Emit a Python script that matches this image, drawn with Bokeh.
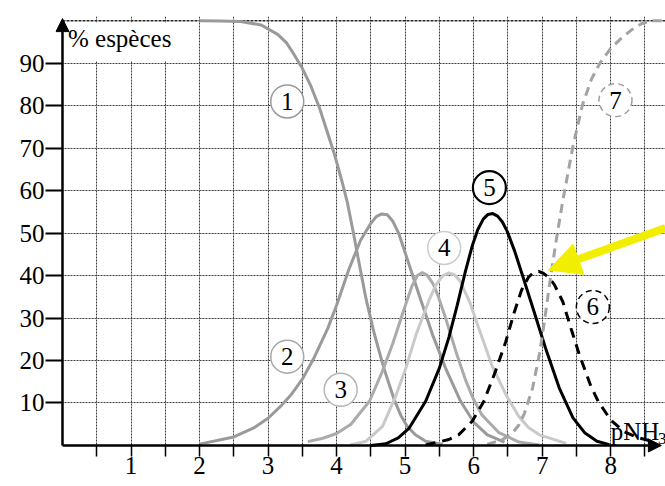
from bokeh.plotting import figure
from bokeh.models import Range1d, FixedTicker, Label, Arrow, NormalHead
from bokeh.core.properties import value
from bokeh.embed import file_html
from bokeh.resources import INLINE

FONT = "'Liberation Serif'"

# ---- axes / ticks ----
x_ticks = [1, 2, 3, 4, 5, 6, 7, 8]
x_minor = [0.5, 1.5, 2.5, 3.5, 4.5, 5.5, 6.5, 7.5, 8.5]
y_ticks = [10, 20, 30, 40, 50, 60, 70, 80, 90]
grid_x = [0.5, 1, 1.5, 2, 2.5, 3, 3.5, 4, 4.5, 5, 5.5, 6, 6.5, 7, 7.5, 8, 8.5]
grid_y = [10, 20, 30, 40, 50, 60, 70, 80, 90]
X_MIN, X_MAX = -0.102, 8.80
Y_MIN, Y_MAX = -1.9, 101

# ---- species curves (% vs pNH3) ----
c1_x = [2.0, 2.3, 2.6, 2.9, 3.14, 3.27, 3.37, 3.5, 3.62, 3.75, 3.87, 3.97, 4.09, 4.16, 4.24, 4.31, 4.43, 4.55, 4.69, 4.84, 4.94, 5.03, 5.15, 5.3, 5.55]
c1_y = [100, 99.95, 99.8, 99, 96.8, 94.8, 92.3, 88.8, 84.8, 79.5, 73.5, 68.5, 61.5, 57, 50.5, 44.5, 34.5, 26.3, 18.2, 10.8, 7.0, 4.5, 2.5, 1.0, 0.2]

c2_x = [2.0, 2.5, 2.8, 3.0, 3.2, 3.33, 3.5, 3.67, 3.87, 4.0, 4.18, 4.35, 4.5, 4.58, 4.66, 4.74, 4.82, 4.91, 5.06, 5.23, 5.4, 5.59, 5.81, 6.0, 6.2, 6.45]
c2_y = [0.3, 2.0, 4.2, 6.4, 9.5, 11.8, 15.6, 20.6, 27.5, 33, 41.5, 48.3, 52.3, 53.9, 54.5, 54.3, 52.8, 49.8, 42.5, 34.2, 26.1, 18.2, 10.4, 5.5, 2.5, 0.8]

c3_x = [3.58, 3.8, 4.0, 4.21, 4.35, 4.48, 4.67, 4.82, 5.01, 5.1, 5.18, 5.25, 5.32, 5.4, 5.47, 5.59, 5.74, 5.88, 6.0, 6.12, 6.37, 6.66, 6.96]
c3_y = [0.9, 1.7, 2.8, 5.0, 7.8, 10.4, 17.5, 24.0, 33.3, 37.5, 40.0, 40.7, 40.1, 38.3, 35.7, 30, 22.2, 15.5, 10.8, 7.2, 3.0, 0.8, 0.1]

c4_x = [4.2, 4.43, 4.67, 4.86, 5.01, 5.16, 5.35, 5.45, 5.55, 5.64, 5.72, 5.8, 5.95, 6.07, 6.27, 6.47, 6.66, 6.8, 6.96, 7.35]
c4_y = [0.1, 1.0, 4.5, 11.5, 18.2, 26.1, 34.2, 37.8, 40.0, 40.6, 40.2, 38.8, 33.5, 27.8, 18.7, 12, 6.8, 4.2, 2.5, 0.5]

c5_x = [4.5, 4.72, 4.9, 5.06, 5.3, 5.5, 5.64, 5.76, 5.88, 5.98, 6.06, 6.14, 6.21, 6.28, 6.35, 6.42, 6.49, 6.6, 6.71, 6.88, 7.05, 7.25, 7.45, 7.62, 7.8, 7.98]
c5_y = [0, 0.4, 1.8, 4.1, 10.4, 18.2, 25.5, 33, 41, 47.0, 50.8, 53.3, 54.4, 54.6, 54.0, 52.6, 50.4, 45.7, 40.2, 31.6, 22.9, 13.5, 6.5, 3.0, 1.0, 0.2]

c6_x = [5.3, 5.64, 5.78, 5.98, 6.15, 6.32, 6.47, 6.59, 6.7, 6.8, 6.88, 6.95, 7.02, 7.1, 7.18, 7.3, 7.42, 7.54, 7.71, 7.82, 8.0, 8.19, 8.4, 8.6]
c6_y = [0.1, 1.4, 2.5, 5.7, 10.4, 17.5, 24.5, 31.2, 36.6, 39.6, 40.8, 41.0, 40.5, 39.5, 37.8, 33.9, 27.6, 21.5, 14, 10.3, 6, 3.3, 1.8, 1.0]

c7_x = [6.2, 6.4, 6.56, 6.66, 6.74, 6.86, 6.96, 7.03, 7.1, 7.2, 7.3, 7.45, 7.59, 7.72, 7.85, 8.0, 8.15, 8.3, 8.45, 8.61, 8.8]
c7_y = [0.3, 1.2, 2.8, 4.8, 7.5, 13.5, 21.5, 28.8, 37.0, 47.8, 57.5, 70.5, 80.3, 86.3, 90.2, 93.5, 95.8, 97.8, 99.3, 100, 100]

# ---- circled labels ----
lab_text = ["1", "2", "3", "4", "5", "6", "7"]
lab_x = [3.28, 3.28, 4.06, 5.57, 6.23, 7.74, 8.07]
lab_y = [81.0, 20.9, 13.1, 46.5, 60.7, 32.6, 81.3]

p = figure(width=665, height=486, x_range=Range1d(X_MIN, X_MAX), y_range=Range1d(Y_MIN, Y_MAX),
           output_backend="svg", toolbar_location=None,
           min_border_left=55, min_border_right=0, min_border_top=16, min_border_bottom=33)
p.outline_line_color = None
p.background_fill_color = "white"
p.border_fill_color = "white"

# grid
p.xgrid.ticker = FixedTicker(ticks=grid_x)
p.ygrid.ticker = FixedTicker(ticks=grid_y)
for g in (p.xgrid, p.ygrid):
    g.grid_line_color = "#3c3c3c"
    g.grid_line_dash = "2 1"
    g.grid_line_width = 1

# axes (lines drawn separately at x=0 / y=0)
p.xaxis.ticker = FixedTicker(ticks=x_ticks, minor_ticks=x_minor)
p.yaxis.ticker = FixedTicker(ticks=y_ticks)
for ax in (p.xaxis, p.yaxis):
    ax.axis_line_color = None
    ax.major_tick_line_color = "black"
    ax.major_tick_line_width = 1.5
    ax.major_label_text_font = FONT
    ax.major_label_text_font_size = "25px"
    ax.major_label_text_color = "black"
    ax.major_label_standoff = 0
p.xaxis.major_tick_in = 9
p.xaxis.major_tick_out = 3
p.xaxis.minor_tick_in = 9
p.xaxis.minor_tick_out = 3
p.xaxis.minor_tick_line_color = "black"
p.xaxis.minor_tick_line_width = 1.5
p.yaxis.major_tick_in = 7
p.yaxis.major_tick_out = 10
p.yaxis.minor_tick_in = 0
p.yaxis.minor_tick_out = 0
p.yaxis.major_tick_line_width = 2
p.yaxis.major_label_standoff = 1

# white strips outside the axes and box behind y title
p.quad(left=[X_MIN], right=[0], bottom=[Y_MIN], top=[Y_MAX], fill_color="white", line_color=None)
p.quad(left=[X_MIN], right=[X_MAX], bottom=[Y_MIN], top=[0], fill_color="white", line_color=None)
p.quad(left=[0.03], right=[1.93], bottom=[90.5], top=[99.6], fill_color="white", line_color=None)

# top border line
p.segment(x0=[0], y0=[100], x1=[X_MAX], y1=[100], line_color="#2a2a2a", line_width=1.5, line_dash="3 1")

# curves
p.line(c1_x, c1_y, line_color="#9a9a9a", line_width=3)
p.line(c2_x, c2_y, line_color="#9a9a9a", line_width=3)
p.line(c3_x, c3_y, line_color="#ababab", line_width=3)
p.line(c4_x, c4_y, line_color="#c9c9c9", line_width=3)
p.line(c5_x, c5_y, line_color="black", line_width=3)
p.line(c6_x, c6_y, line_color="black", line_width=3, line_dash="10 7")
p.line(c7_x, c7_y, line_color="#a3a3a3", line_width=3, line_dash="9 6")

# circled numbers
circ_colors = ["#9a9a9a", "#a8a8a8", "#b5b5b5", "#cccccc", "black", "black", "#a0a0a0"]
circ_widths = [1.5, 1.5, 1.5, 1.5, 2.2, 1.5, 1.5]
circ_dash = ["solid", "solid", "solid", "solid", "solid", "6 4", "6 4"]
for i in range(len(lab_text)):
    p.scatter([lab_x[i]], [lab_y[i]], marker="circle", size=33, fill_color="white",
              line_color=circ_colors[i], line_width=circ_widths[i], line_dash=circ_dash[i])
p.text(x=lab_x, y=lab_y, text=lab_text, text_font=value(FONT), text_font_size="25px",
       text_align="center", text_baseline="middle", text_color="black")

# axis lines with arrow heads
p.add_layout(Arrow(end=NormalHead(size=13, fill_color="black", line_color="black"),
                   x_start=0, y_start=0, x_end=0, y_end=100.5, line_color="black", line_width=2.5))
p.add_layout(Arrow(end=NormalHead(size=13, fill_color="black", line_color="black"),
                   x_start=0, y_start=0, x_end=8.74, y_end=0, line_color="black", line_width=2.5))

# yellow pointer arrow
p.add_layout(Arrow(end=NormalHead(size=32, fill_color="#f2ee00", line_color="#f2ee00"),
                   x_start=8.8, y_start=51.2, x_end=7.09, y_end=41.3,
                   line_color="#f2ee00", line_width=8))

# texts
p.add_layout(Label(x=0.08, y=95.8, text="% espèces", text_font=FONT, text_font_size="25px",
                   text_baseline="middle", text_color="black"))
p.add_layout(Label(x=-0.32, y=-5.0, text="0", text_font=FONT, text_font_size="25px",
                   text_align="center", text_baseline="middle", text_color="black"))
p.add_layout(Label(x=8.0, y=3.3, text="pNH", text_font=FONT, text_font_size="25px",
                   text_baseline="alphabetic", text_color="black"))
p.add_layout(Label(x=8.69, y=1.6, text="3", text_font=FONT, text_font_size="17px",
                   text_baseline="alphabetic", text_color="black"))

open("out.html", "w").write(file_html(p, INLINE))
